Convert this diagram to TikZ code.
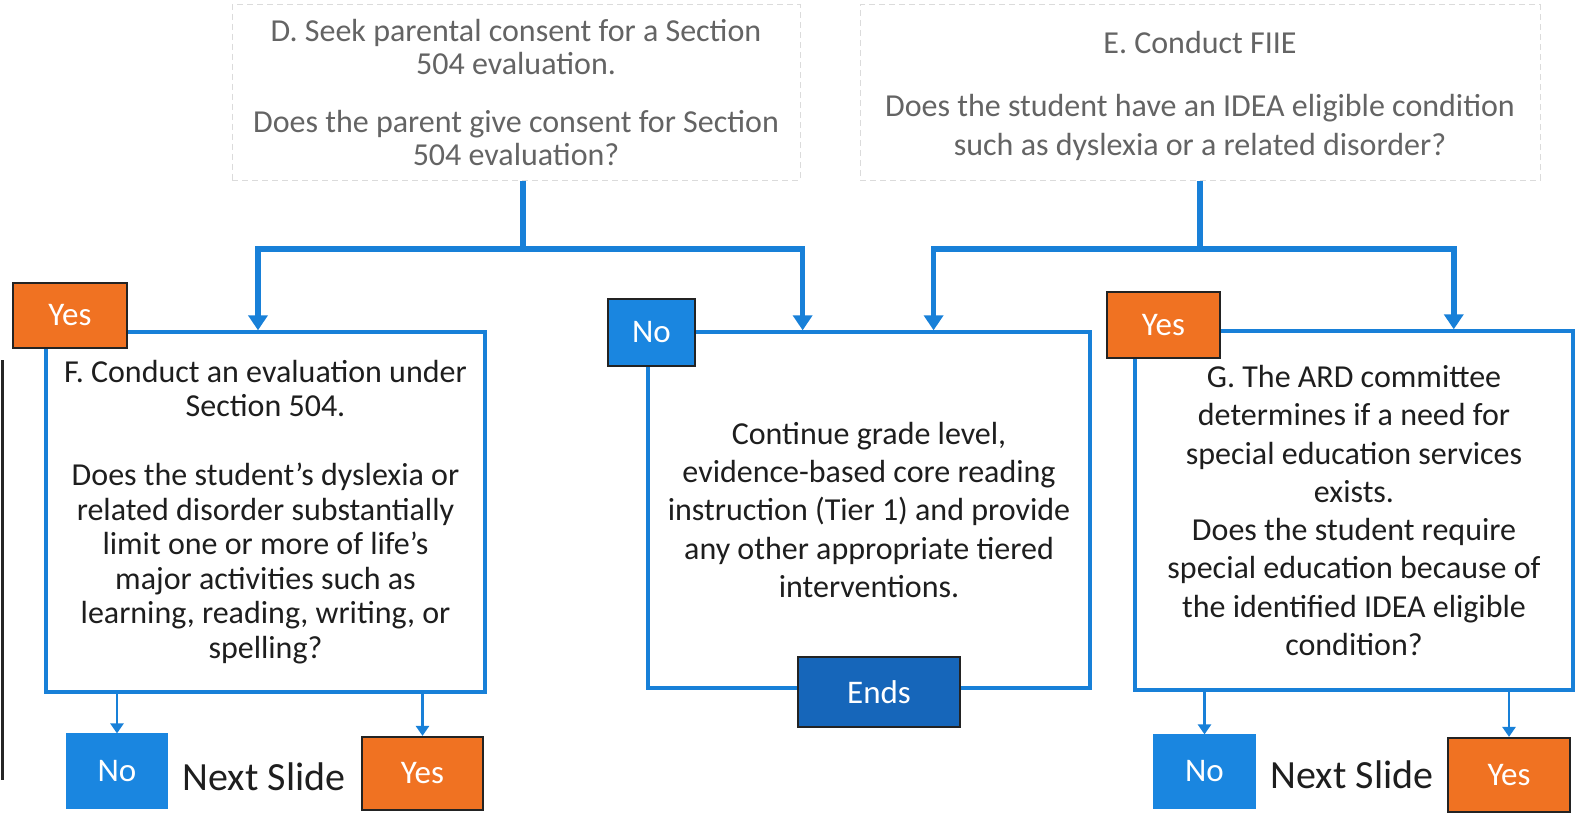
\documentclass[tikz,border=0pt]{standalone}
\usepackage{fontspec}
\setmainfont{Carlito}
\usetikzlibrary{arrows.meta,calc}
\definecolor{lineblue}{RGB}{24,128,216}
\definecolor{labelblue}{RGB}{26,134,224}
\definecolor{endsblue}{RGB}{22,102,186}
\definecolor{orangefill}{RGB}{240,114,34}
\definecolor{darkedge}{RGB}{35,35,35}
\definecolor{maintext}{RGB}{30,30,30}
\definecolor{toptext}{RGB}{100,100,100}
\begin{document}
\begin{tikzpicture}[x=0.5pt,y=-0.5pt,
  topbox/.style={draw=gray!28,densely dashed,line width=0.5pt,fill=white,align=center,inner sep=0pt,text=toptext},
  mainbox/.style={draw=lineblue,line width=1.7pt,fill=white,align=center,inner sep=0pt,text=maintext},
  yeslabel/.style={draw=darkedge,line width=1.1pt,fill=orangefill,text=white,inner sep=0pt,font=\fontsize{16.5}{18}\selectfont},
  nolabel/.style={draw=darkedge,line width=1.1pt,fill=labelblue,text=white,inner sep=0pt,font=\fontsize{16.5}{18}\selectfont},
  nolabelplain/.style={draw=labelblue,line width=0.6pt,fill=labelblue,text=white,inner sep=0pt,font=\fontsize{16.5}{18}\selectfont},
  endslabel/.style={draw=darkedge,line width=1.1pt,fill=endsblue,text=white,inner sep=0pt,font=\fontsize{16.5}{18}\selectfont},
  nexttext/.style={inner sep=0pt,text=maintext,font=\fontsize{20}{22}\selectfont},
  conn/.style={draw=lineblue,line width=2.75pt,line join=miter},
  bigtip/.style={-{Triangle[width=9.5pt,length=7.5pt]}},
  smallconn/.style={draw=lineblue,line width=1.35pt,-{Triangle[width=6.5pt,length=5pt]}}
]
\useasboundingbox (0,0) rectangle (1583,813);
% scan edge line
\draw[line width=1.5pt,black!85] (2,360) -- (2,780);

% top boxes
\node[topbox,minimum width=284pt,minimum height=87.5pt,font=\fontsize{16}{16.5}\selectfont] (D) at (516,92.5)
  {D. Seek parental consent for a Section\\504 evaluation.\\[12.5pt]Does the parent give consent for Section\\504 evaluation?};
\node[topbox,minimum width=340pt,minimum height=87.5pt] (E) at (1200,92.5) {};
\node[inner sep=0pt,align=center,text=toptext,font=\fontsize{16}{19.5}\selectfont] (ET) at (E.center |- 0,96)
  {E. Conduct FIIE\\[12pt]Does the student have an IDEA eligible condition\\such as dyslexia or a related disorder?};

% main boxes
\node[mainbox,minimum width=219.5pt,minimum height=180pt,font=\fontsize{16}{17.25}\selectfont] (F) at (265.5,512)
  {F. Conduct an evaluation under\\Section 504.\\[17.25pt]Does the student’s dyslexia or\\related disorder substantially\\limit one or more of life’s\\major activities such as\\learning, reading, writing, or\\spelling?};
\node[mainbox,minimum width=221pt,minimum height=178pt,font=\fontsize{16}{19.15}\selectfont] (M) at (869,510)
  {Continue grade level,\\evidence-based core reading\\instruction (Tier 1) and provide\\any other appropriate tiered\\interventions.};
\node[mainbox,minimum width=219pt,minimum height=179.5pt,font=\fontsize{16}{19.15}\selectfont] (G) at (1354,510.5)
  {G. The ARD committee\\determines if a need for\\special education services\\exists.\\Does the student require\\special education because of\\the identified IDEA eligible\\condition?};

% labels on boxes
\node[yeslabel,minimum width=57pt,minimum height=32.5pt] (FYesTop) at (70,315.5) {Yes};
\node[nolabel,minimum width=43.5pt,minimum height=33.5pt] (MNo) at (651.5,332.5) {No};
\node[yeslabel,minimum width=56.5pt,minimum height=33pt] (GYesTop) at (1163.5,325) {Yes};
\node[endslabel,minimum width=81pt,minimum height=35pt] (Ends) at (879,692) {Ends};

% bottom outcome boxes
\node[nolabelplain,minimum width=50pt,minimum height=37pt] (FNo) at (117,771) {No};
\node[yeslabel,minimum width=60.5pt,minimum height=36.5pt] (FYes) at (422.5,773.5) {Yes};
\node[nexttext] (FNext) at (264,777) {Next Slide};
\node[nolabelplain,minimum width=50.5pt,minimum height=36.5pt] (GNo) at (1204.5,771.5) {No};
\node[yeslabel,minimum width=61pt,minimum height=37pt] (GYes) at (1509,775) {Yes};
\node[nexttext] (GNext) at (1352,775) {Next Slide};

% connectors from D
\coordinate (dj) at (523,249);
\draw[conn] (D.south -| dj) -- (dj);
\draw[conn,bigtip] (dj) -| ($(F.north west)!0.483!(F.north east)$);
\draw[conn,bigtip] (dj) -| ($(M.north west)!0.351!(M.north east)$);
% connectors from E
\coordinate (ej) at (1200,249);
\draw[conn] (E.south -| ej) -- (ej);
\draw[conn,bigtip] (ej) -| ($(M.north west)!0.645!(M.north east)$);
\draw[conn,bigtip] (ej) -| ($(G.north west)!0.726!(G.north east)$);

% bottom connectors
\draw[smallconn] (F.south -| FNo.north) -- (FNo.north);
\draw[smallconn] (F.south -| FYes.north) -- (FYes.north);
\draw[smallconn] (G.south -| GNo.north) -- (GNo.north);
\draw[smallconn] (G.south -| GYes.north) -- (GYes.north);
\end{tikzpicture}
\end{document}
